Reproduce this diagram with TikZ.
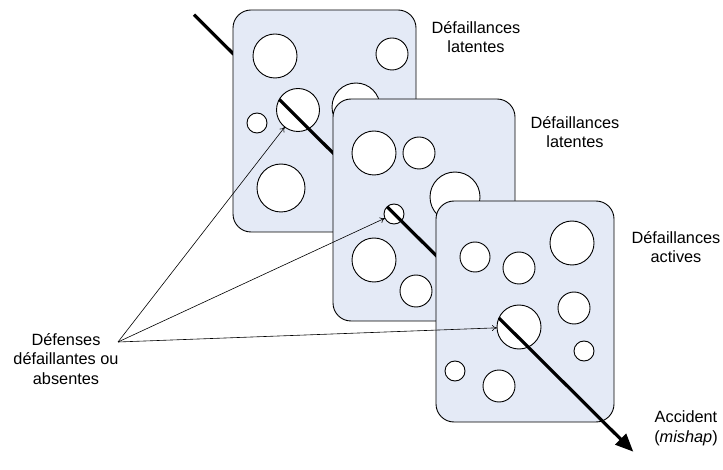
\documentclass[tikz,border=0pt]{standalone}
\usepackage{fontspec}
\setmainfont{Liberation Sans}
\usetikzlibrary{arrows.meta,calc,intersections}
\definecolor{slicefill}{RGB}{228,234,246}
\begin{document}
\begin{tikzpicture}[x=1pt,y=-1pt,
  slice/.style={draw=black,line width=0.9pt,fill=slicefill,rounded corners=18pt},
  hole/.style={circle,draw=black,line width=0.9pt,fill=white,inner sep=0pt,outer sep=0pt},
  ray/.style={line width=3.2pt,draw=black},
  pointer/.style={line width=0.6pt,-{To[length=5pt,width=6pt]}},
  lbl/.style={font=\fontsize{16.3}{19.5}\selectfont,align=center,anchor=base,inner sep=0pt}]
\useasboundingbox (0,0) rectangle (723,470);

% the trajectory
\coordinate (S) at (194,14.7);
\coordinate (T) at (633.3,451.7);
\path[name path=ray] (S) -- (T);
\path[name path=c1] (298,110) circle[radius=21.5pt];
\path[name path=c2] (394,214) circle[radius=10pt];
\path[name path=c3] (519,327) circle[radius=22pt];
\path[name intersections={of=ray and c1, sort by=ray, name=ea}];
\path[name intersections={of=ray and c2, sort by=ray, name=eb}];
\path[name intersections={of=ray and c3, sort by=ray, name=ec}];

% segment before slice 1
\draw[ray] (S) -- ($(S)!0.12!(T)$);

% slice 1
\draw[slice] (233,10) rectangle (416,232);
\node[hole,minimum size=44pt] (h1a) at (275,56) {};
\node[hole,minimum size=32pt] (h1b) at (392,54) {};
\node[hole,minimum size=43pt] (h1c) at (298,110) {};
\node[hole,minimum size=20pt] (h1d) at (257,123) {};
\node[hole,minimum size=48pt] (h1e) at (356,107) {};
\node[hole,minimum size=48pt] (h1f) at (281,188) {};
\draw[ray] (ea-1) -- ($(S)!0.33!(T)$);

% slice 2
\draw[slice] (333,99) rectangle (515,321);
\node[hole,minimum size=44pt] (h2a) at (374,153) {};
\node[hole,minimum size=32pt] (h2b) at (419,153) {};
\node[hole,minimum size=50pt] (h2c) at (455,197) {};
\node[hole,minimum size=20pt] (h2d) at (394,214) {};
\node[hole,minimum size=44pt] (h2e) at (374,260) {};
\node[hole,minimum size=32pt] (h2f) at (416,291) {};
\draw[ray] (eb-1) -- ($(S)!0.57!(T)$);

% slice 3
\draw[slice] (436,201) rectangle (614,422);
\node[hole,minimum size=30pt] (h3a) at (475,257) {};
\node[hole,minimum size=32pt] (h3b) at (519,268) {};
\node[hole,minimum size=44pt] (h3c) at (572,243) {};
\node[hole,minimum size=32pt] (h3d) at (574,308) {};
\node[hole,minimum size=44pt] (h3e) at (519,327) {};
\node[hole,minimum size=20pt] (h3f) at (584,351) {};
\node[hole,minimum size=20pt] (h3g) at (455,371) {};
\node[hole,minimum size=32pt] (h3h) at (499,386) {};
\draw[ray,-{Triangle[length=18pt,width=15pt]}] (ec-1) -- (T);

% labels (base anchor = baseline of last line)
\node[lbl] (L1) at (476,52.7) {Défaillances\\latentes};
\node[lbl] (L2) at (575,147.7) {Défaillances\\latentes};
\node[lbl] (L3) at (676,262.7) {Défaillances\\actives};
\node[lbl] (L4) at (686,442) {Accident\\(\textit{mishap})};
\node[lbl] (L5) at (66,384) {Défenses\\défaillantes ou\\absentes};

% pointers
\coordinate (D) at (118,342);
\draw[pointer] (D) -- (h1c);
\draw[pointer] (D) -- (h2d);
\draw[pointer] (D) -- (h3e);
\end{tikzpicture}
\end{document}
